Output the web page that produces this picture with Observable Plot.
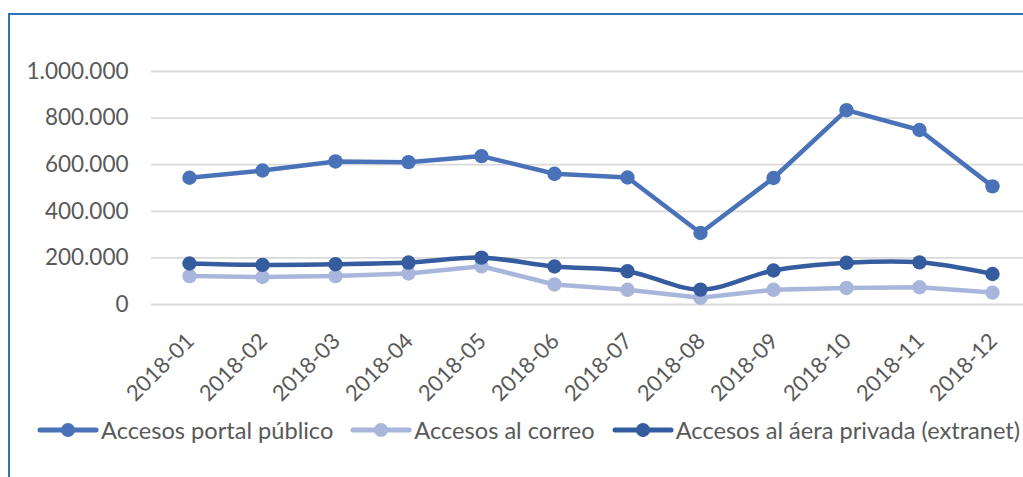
<!DOCTYPE html>
<html>
<head>
<meta charset="utf-8">
<script src="https://cdn.jsdelivr.net/npm/d3@7"></script>
<script src="https://cdn.jsdelivr.net/npm/@observablehq/plot@0.6"></script>
<style>
  html, body { margin: 0; padding: 0; background: #fff; }
  body { width: 1023px; height: 477px; overflow: hidden; position: relative; font-family: Lato, "Open Sans", sans-serif; }
  #frame { position: absolute; left: 8px; top: 13px; width: 1100px; height: 600px; border-left: 2px solid #2E75B6; border-top: 2px solid #2E75B6; box-sizing: border-box; }
  #chart { position: absolute; left: 0; top: 0; }
  #legend { position: absolute; left: 37px; top: 416px; display: flex; align-items: center; font-size: 23.6px; color: #595959; white-space: nowrap; }
  #legend .item { display: flex; align-items: center; margin-right: 17px; }
  #legend svg { display: block; margin-right: 2px; }
</style>
</head>
<body>
<div id="frame"></div>
<div id="chart"></div>
<div id="legend"></div>
<script>
const months = ["2018-01","2018-02","2018-03","2018-04","2018-05","2018-06","2018-07","2018-08","2018-09","2018-10","2018-11","2018-12"];
const portal = [544000, 575000, 614000, 611000, 637000, 561000, 545000, 307000, 543000, 834000, 749000, 507000];
const correo = [122000, 118000, 122000, 133000, 164000, 86000, 63000, 29000, 63000, 71000, 74000, 51000];
const extranet = [176000, 170000, 173000, 180000, 201000, 163000, 143000, 64000, 146000, 179000, 181000, 131000];
const seriesNames = ["Accesos portal público", "Accesos al correo", "Accesos al áera privada (extranet)"];
const seriesColors = ["#4A72B8", "#A7B6DA", "#355C9E"];
const yTicks = [0, 200000, 400000, 600000, 800000, 1000000];

const seriesValues = [portal, correo, extranet];
const curves = ["linear", "linear", "catmull-rom"];
const fmt = d => d === 0 ? "0" : d3.format(",")(d).replace(/,/g, ".");

const marks = [
  Plot.gridY(yTicks, {stroke: "#D9D9D9", strokeOpacity: 1, strokeWidth: 1.8}),
  Plot.axisY(yTicks, {tickSize: 0, tickPadding: 23, tickFormat: fmt, fontSize: 22.5, fill: "#595959", label: null}),
  Plot.axisX(months, {tickSize: 0, tickPadding: 0, tickRotate: -45, textAnchor: "end", lineAnchor: "middle", dx: 1, dy: 33, fontSize: 22, fill: "#595959", label: null})
];
seriesValues.forEach((vals, i) => {
  const data = months.map((m, j) => ({month: m, value: vals[j]}));
  marks.push(Plot.line(data, {x: "month", y: "value", stroke: seriesColors[i], strokeWidth: 4.5, curve: curves[i]}));
  marks.push(Plot.dot(data, {x: "month", y: "value", fill: seriesColors[i], r: 7.2, stroke: "none"}));
});

const chart = Plot.plot({
  width: 1023,
  height: 400,
  marginLeft: 151,
  marginRight: 0,
  marginTop: 71,
  marginBottom: 96,
  style: {fontFamily: "Lato, 'Open Sans', sans-serif", background: "transparent", overflow: "visible"},
  x: {type: "point", domain: months, range: [188, 992], padding: 0, axis: null},
  y: {domain: [0, 1000000], axis: null},
  marks
});
document.getElementById("chart").appendChild(chart);

const legend = document.getElementById("legend");
seriesNames.forEach((name, i) => {
  const item = document.createElement("div");
  item.className = "item";
  item.innerHTML = `<svg width="62" height="20"><line x1="3" y1="10" x2="59" y2="10" stroke="${seriesColors[i]}" stroke-width="5" stroke-linecap="round"/><circle cx="31" cy="10" r="7" fill="${seriesColors[i]}"/></svg><span>${name}</span>`;
  legend.appendChild(item);
});
</script>
</body>
</html>
